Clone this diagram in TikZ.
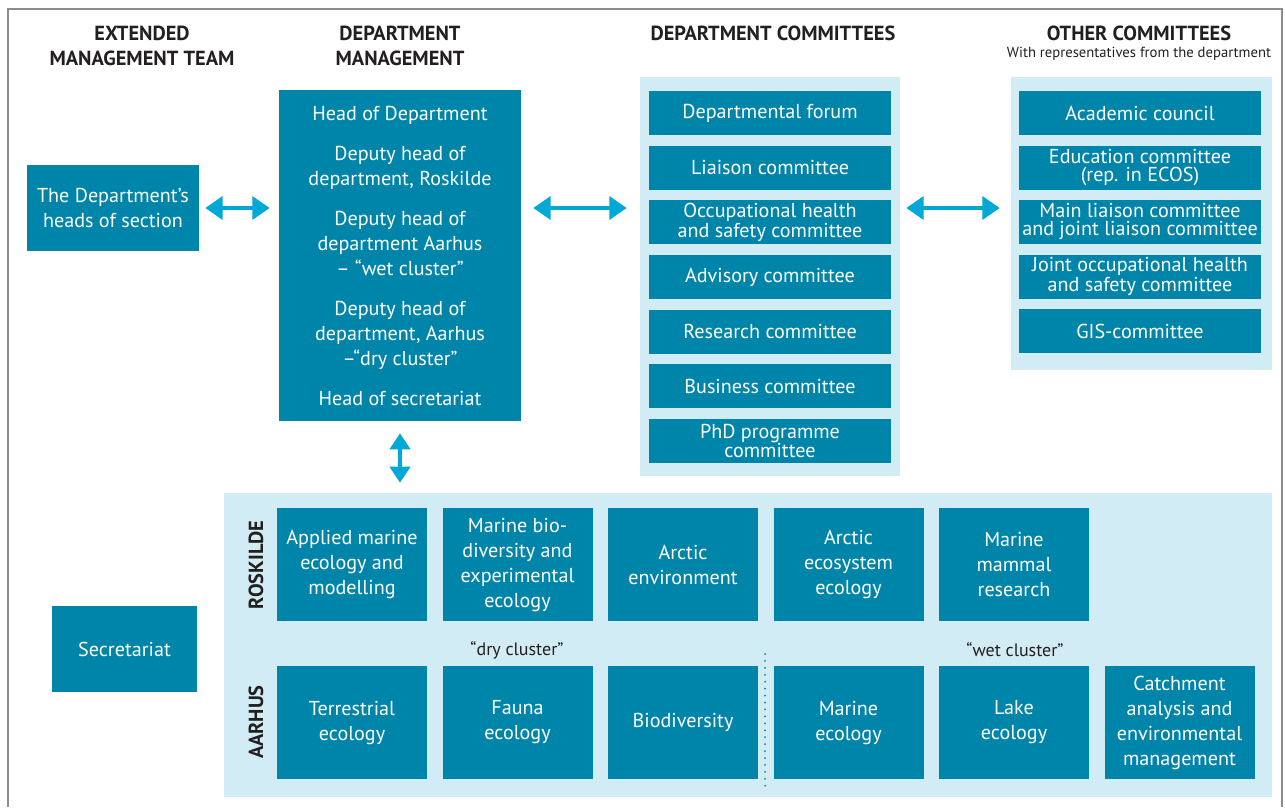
\documentclass[tikz,border=0pt]{standalone}
\usepackage{fontspec}
\setmainfont{PT Sans}
\usetikzlibrary{arrows.meta,positioning}

\definecolor{unitblue}{HTML}{0085AA}
\definecolor{paleblue}{HTML}{D1ECF4}
\definecolor{arrowblue}{HTML}{00A8D6}
\definecolor{headgray}{HTML}{231F20}
\definecolor{framegray}{HTML}{8C8C8C}

\tikzset{
  unit/.style={fill=unitblue, text=white, align=center, inner sep=0pt,
    font=\fontsize{15.1}{18.75}\selectfont},
  cttee/.style={unit, minimum width=181.5pt, minimum height=33pt,
    font=\fontsize{15.1}{13.5}\selectfont},
  site/.style={unit, minimum width=112.5pt, minimum height=84.75pt},
  panel/.style={fill=paleblue, inner sep=0pt},
  heading/.style={text=headgray, align=center, inner sep=0pt,
    font=\bfseries\fontsize{15.3}{18.75}\selectfont},
  twoway/.style={arrowblue, line width=3.5pt,
    {Triangle[length=13pt,width=17pt]}-{Triangle[length=13pt,width=17pt]}},
}

\begin{document}
\begin{tikzpicture}[x=0.75pt, y=-0.75pt]
\useasboundingbox (0,0) rectangle (1285,807);

% outer frame, open at the bottom
\draw[framegray, line width=1.5pt] (8,807) -- (8,9) -- (1282,9) -- (1282,807);

% column headings
\node[heading] (h1) at (142,45.5) {EXTENDED\\MANAGEMENT TEAM};
\node[heading] (h2) at (400,45.5) {DEPARTMENT\\MANAGEMENT};
\node[heading] (h3) at (773,33) {DEPARTMENT COMMITTEES};
\node[heading] (h4) at (1139,33) {OTHER COMMITTEES};
\node[text=headgray, inner sep=0pt, font=\fontsize{11}{12}\selectfont]
  (h4sub) at (1139,54) {With representatives from the department};

% light panels
\node[panel, minimum width=195pt, minimum height=299.25pt] (cpanel) at (770,276.5) {};
\node[panel, minimum width=195.75pt, minimum height=219.75pt] (opanel) at (1141.5,223.5) {};
\node[panel, minimum width=786pt, minimum height=228pt] (sites) at (748,645) {};

% management
\node[unit, minimum width=129pt, minimum height=64.5pt] (heads) at (113,208)
  {The Department’s\\heads of section};
\node[unit, minimum width=181.5pt, minimum height=248.25pt] (mgmt) at (400,255.5)
  {Head of Department\\[11.25pt]
   Deputy head of\\department, Roskilde\\[11.25pt]
   Deputy head of\\department Aarhus\\– “wet cluster”\\[11.25pt]
   Deputy head of\\department, Aarhus\\–“dry cluster”\\[11.25pt]
   Head of secretariat};
\node[unit, minimum width=108.75pt, minimum height=64.5pt] (secr) at (124.5,649) {Secretariat};

% committees
\foreach \txt [count=\i] in {Departmental forum, Liaison committee,
    {Occupational health\\and safety committee}, Advisory committee,
    Research committee, Business committee, {PhD programme\\committee}}
  \node[cttee] (c\i) at (770,{113+(\i-1)*54.67}) {\txt};

\foreach \txt [count=\i] in {Academic council,
    {Education committee\\(rep. in ECOS)},
    {Main liaison committee\\and joint liaison committee},
    {Joint occupational health\\and safety committee}, GIS-committee}
  \node[cttee] (o\i) at (1140,{113+(\i-1)*54.5}) {\txt};

% sections
\node[heading, rotate=90] (rosk) at (256,565) {ROSKILDE};
\node[heading, rotate=90] (aarh) at (256,722) {AARHUS};

\foreach \txt [count=\i] in {{Applied marine\\ecology and\\modelling},
    {Marine bio-\\diversity and\\experimental\\ecology},
    {Arctic\\environment}, {Arctic\\ecosystem\\ecology},
    {Marine\\mammal\\research}}
  \node[site] (r\i) at ({352+(\i-1)*165.5},564.5) {\txt};

\foreach \txt [count=\i] in {{Terrestrial\\ecology}, {Fauna\\ecology},
    Biodiversity, {Marine\\ecology}, {Lake\\ecology},
    {Catchment\\analysis and\\environmental\\management}}
  \node[site] (a\i) at ({352+(\i-1)*165.5},722.5) {\txt};

\node[text=headgray, inner sep=0pt, font=\fontsize{13.5}{14}\selectfont]
  (dry) at (517,650) {“dry cluster”};
\node[text=headgray, inner sep=0pt, font=\fontsize{13.5}{14}\selectfont]
  (wet) at (1015,650) {“wet cluster”};

\coordinate (dtop) at (765,654);
\coordinate (dbot) at (765,786);
\draw[unitblue, line width=1.5pt, line cap=round, dash pattern=on 0pt off 5.2pt] (dtop) -- (dbot);

% links
\draw[twoway, shorten <=4.5pt, shorten >=6.75pt] (heads.east) -- (heads.east -| mgmt.west);
\draw[twoway, shorten <=9pt, shorten >=9.75pt] (mgmt.east |- heads.east) -- (cpanel.west |- heads.east);
\draw[twoway, shorten <=4.5pt, shorten >=8.25pt] (cpanel.east |- heads.east) -- (opanel.west |- heads.east);
\draw[twoway, line width=3pt, shorten <=9pt, shorten >=7.5pt,
  {Triangle[length=12pt,width=15pt]}-{Triangle[length=12pt,width=15pt]}]
  (mgmt.south) -- (mgmt.south |- sites.north);
\end{tikzpicture}
\end{document}
